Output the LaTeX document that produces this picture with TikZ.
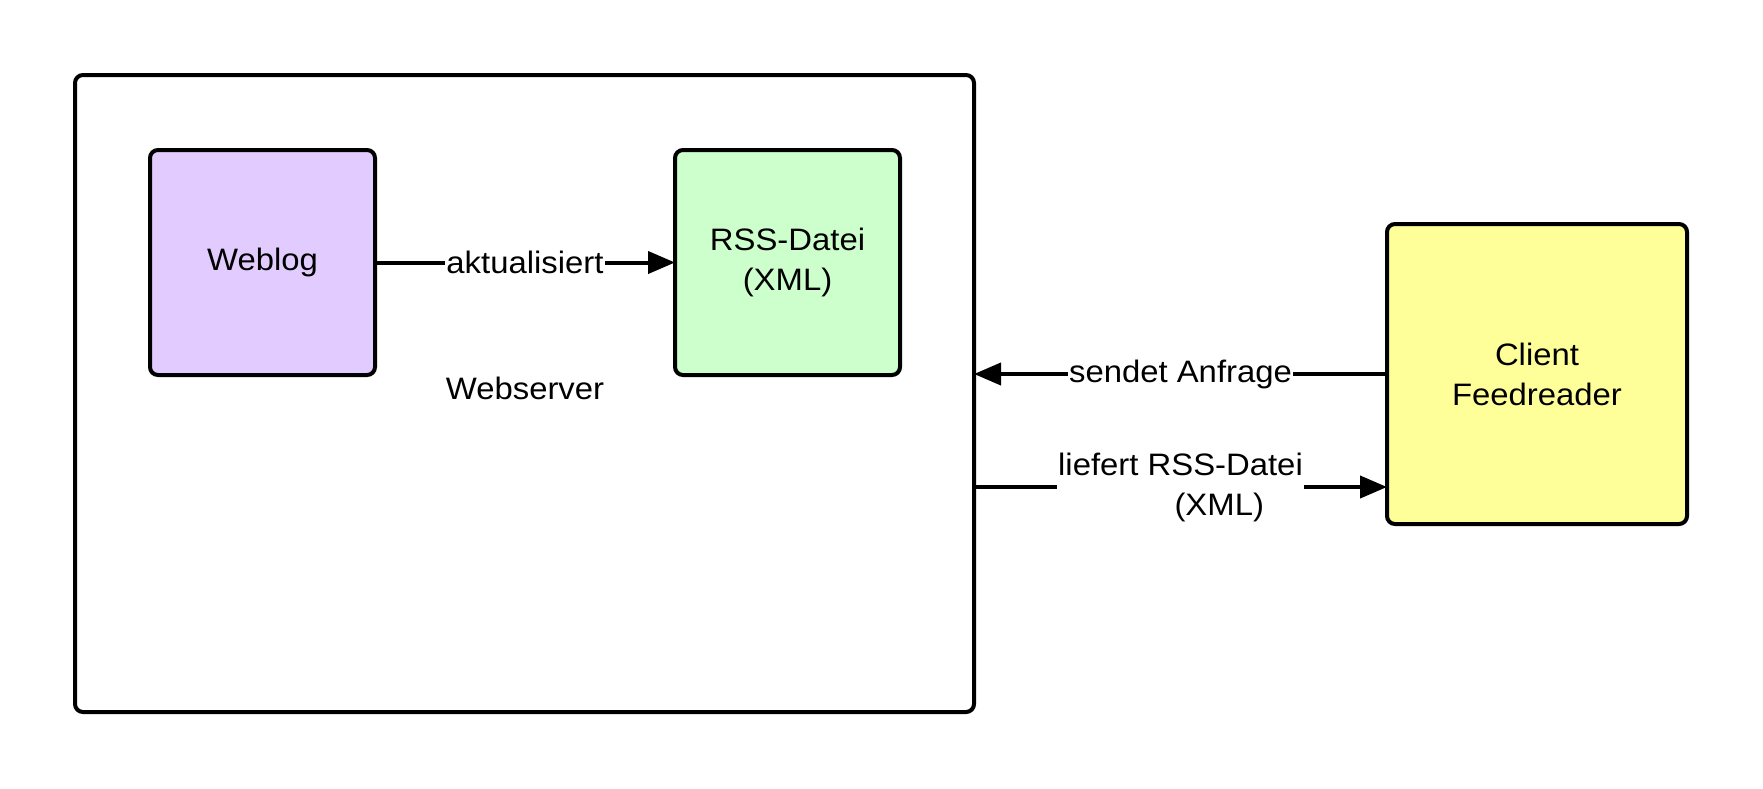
\documentclass[tikz,border=0pt]{standalone}
\usepackage{fontspec}
\setmainfont{Liberation Sans}[FakeStretch=1.06]
\usepackage{tikz}
\usetikzlibrary{arrows.meta,positioning}
\definecolor{weblogcol}{RGB}{226,204,255}
\definecolor{rsscol}{RGB}{204,255,204}
\definecolor{clientcol}{RGB}{255,255,153}

\begin{document}
\begin{tikzpicture}[
			x=1pt,y=-1pt,
			every node/.style={font=\fontsize{31}{40}\selectfont,text=black},
			box/.style={draw,line width=4pt,rounded corners=8pt,minimum width=225pt,minimum height=225pt,inner sep=0pt,outer sep=0pt,align=center},
			pfeil/.style={line width=4pt,-{Triangle[length=27pt,width=22pt]}},
			lbl/.style={fill=white,inner sep=1pt,align=center}
			]
			\useasboundingbox (0,0) rectangle (1763,788);
			\def\ya{262.5}
			\def\yb{487}

			\node[box,minimum width=899pt,minimum height=637pt] (server) at (524.5,393.5) {};
			\node (serverlabel) at (525,388) {Webserver};

			\node[box,fill=weblogcol] (weblog) at (262.5,\ya) {\raisebox{3pt}{Weblog}};
			\node[box,fill=rsscol] (rss) at (787.5,\ya) {\raisebox{3pt}{RSS-Datei}\\\raisebox{3pt}{(XML)}};
			\node[box,fill=clientcol,minimum width=300pt,minimum height=300pt] (client) at (1537,374) {Client\\Feedreader};

			\draw[pfeil] (weblog) -- node[lbl] {aktualisiert} (rss);
			\draw[pfeil] (client.west) -- node[lbl] {sendet Anfrage} (client.west -| server.east);

			\coordinate (liefer) at (974,\yb);
			\draw[pfeil] (liefer) -- node[lbl] {liefert RSS-Datei\\\hspace*{2.5em}(XML)} (liefer -| client.west);

			\end{tikzpicture}
\end{document}
